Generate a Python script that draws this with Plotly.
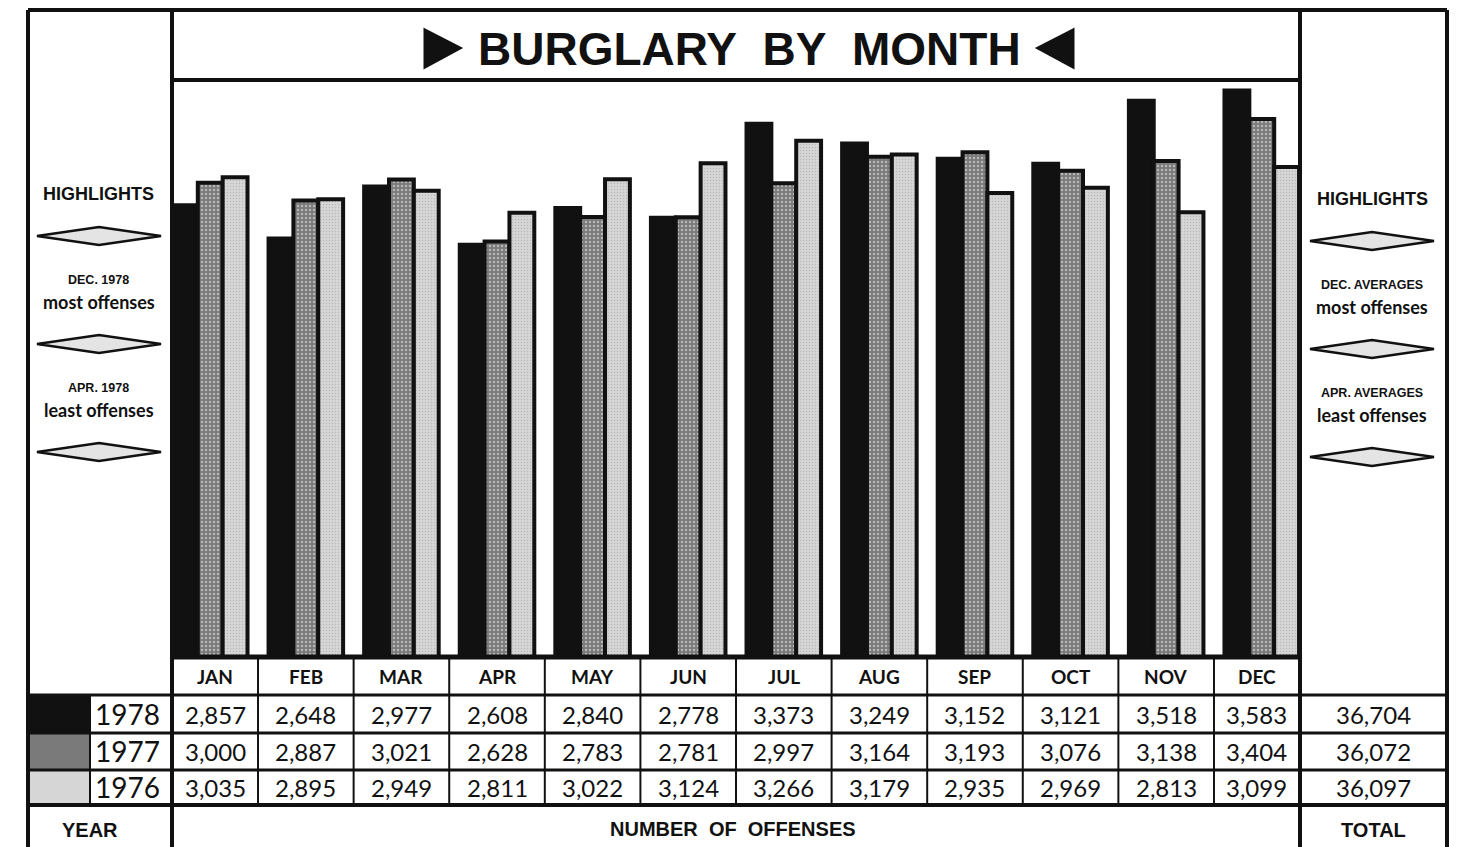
import plotly.graph_objects as go

# values
months = ["JAN", "FEB", "MAR", "APR", "MAY", "JUN", "JUL", "AUG", "SEP", "OCT", "NOV", "DEC"]
years = ["1978", "1977", "1976"]
burglary_1978 = [2857, 2648, 2977, 2608, 2840, 2778, 3373, 3249, 3152, 3121, 3518, 3583]
burglary_1977 = [3000, 2887, 3021, 2628, 2783, 2781, 2997, 3164, 3193, 3076, 3138, 3404]
burglary_1976 = [3035, 2895, 2949, 2811, 3022, 3124, 3266, 3179, 2935, 2969, 2813, 3099]
totals = [36704, 36072, 36097]
left_notes = [("DEC. 1978", "most offenses"), ("APR. 1978", "least offenses")]
right_notes = [("DEC. AVERAGES", "most offenses"), ("APR. AVERAGES", "least offenses")]

# page body has an 8px margin, so the figure is a bit smaller and
# all the pixel positions below (window coords) get shifted by OFF
OFF = 8
W, H = 1458 - OFF, 847 - OFF
INK = "#111111"
year_fill = ["#111111", "#7a7a7a", "#d6d6d6"]
NUM_FONT = "Lato, 'Open Sans', sans-serif"
HEAD_FONT = "'Liberation Sans', Arial, sans-serif"
X_RANGE = [-0.4, len(months) - 0.6]


def px(x):
    return (x - OFF) / W


def py(y):
    return 1 - (y - OFF) / H


series = [burglary_1978, burglary_1977, burglary_1976]
patterns = [
    dict(shape=""),
    dict(shape=".", fgcolor="#f2f2f2", size=4, solidity=0.3),
    dict(shape=".", fgcolor="#9a9a9a", size=3, solidity=0.2),
]

fig = go.Figure()
for yr, vals, col, pat in zip(years, series, year_fill, patterns):
    fig.add_trace(go.Bar(
        x=months, y=vals, name=yr,
        marker=dict(color=col, line=dict(color=INK, width=4), pattern=pat),
        hoverinfo="x+y+name",
    ))

shapes = []
annotations = []


def hline(y, x0, x1, w=3):
    shapes.append(dict(type="line", xref="paper", yref="paper",
                       x0=px(x0), x1=px(x1), y0=py(y), y1=py(y),
                       line=dict(color=INK, width=w)))


def vline(x, y0, y1, w=3):
    shapes.append(dict(type="line", xref="paper", yref="paper",
                       x0=px(x), x1=px(x), y0=py(y0), y1=py(y1),
                       line=dict(color=INK, width=w)))


def diamond(cx, cy, half_w=62, half_h=9):
    path = "M {} {} L {} {} L {} {} L {} {} Z".format(
        px(cx - half_w), py(cy), px(cx), py(cy - half_h),
        px(cx + half_w), py(cy), px(cx), py(cy + half_h))
    shapes.append(dict(type="path", xref="paper", yref="paper", path=path,
                       fillcolor="#e4e4e4", line=dict(color=INK, width=2.5)))


def text(x, y, s, size, bold=False, family=NUM_FONT, xref="paper"):
    annotations.append(dict(
        x=x if xref == "x" else px(x), y=py(y), xref=xref, yref="paper",
        text="<b>%s</b>" % s if bold else s, showarrow=False,
        xanchor="center", yanchor="middle",
        font=dict(family=family, size=size, color=INK)))


# table cells are clipped by the plot edges, so centre text in the visible cell
cell_x = [(max(k - 0.5, X_RANGE[0]) + min(k + 0.5, X_RANGE[1])) / 2
          for k in range(len(months))]

# year swatches in the left column
row_y = [(695, 733), (733, 770), (770, 805)]
for (y0, y1), col in zip(row_y, year_fill):
    shapes.append(dict(type="rect", xref="paper", yref="paper",
                       x0=px(30), x1=px(90), y0=py(y0), y1=py(y1),
                       fillcolor=col, line=dict(width=0)))

# frame and table rules
hline(10, 28, 1447, 4)
vline(28, 10, 860, 4)
vline(1447, 10, 860, 4)
vline(172, 10, 860, 4)
vline(1300, 10, 860, 4)
hline(80, 172, 1300, 4)
hline(657, 172, 1300, 5)
hline(695, 28, 1447, 3)
hline(733, 28, 1447, 3)
hline(770, 28, 1447, 3)
hline(805, 28, 1447, 4)
vline(90, 695, 805, 2)
for k in range(len(months) - 1):
    shapes.append(dict(type="line", xref="x", yref="paper",
                       x0=k + 0.5, x1=k + 0.5, y0=py(657), y1=py(805),
                       line=dict(color=INK, width=2)))

# title with pointer triangles
text(749, 49, "BURGLARY\u00a0\u00a0BY\u00a0\u00a0MONTH", 46, True, HEAD_FONT)
for tri in ([(425, 30), (460, 48), (425, 67)], [(1073, 30), (1038, 48), (1073, 67)]):
    path = "M " + " L ".join("{} {}".format(px(a), py(b)) for a, b in tri) + " Z"
    shapes.append(dict(type="path", xref="paper", yref="paper", path=path,
                       fillcolor=INK, line=dict(color=INK, width=3)))

# month header row and data rows
for cx, m in zip(cell_x, months):
    text(cx, 676, m, 19, True, NUM_FONT, xref="x")
row_centers = [714, 751, 787]
for yr, vals, yc, tot in zip(years, series, row_centers, totals):
    text(127, yc, yr, 28, False, NUM_FONT)
    for cx, v in zip(cell_x, vals):
        text(cx, yc, "{:,}".format(v), 24, False, NUM_FONT, xref="x")
    text(1373, yc, "{:,}".format(tot), 24, False, NUM_FONT)

text(90, 830, "YEAR", 20, True, HEAD_FONT)
text(733, 829, "NUMBER\u00a0\u00a0OF\u00a0\u00a0OFFENSES", 20, True, HEAD_FONT)
text(1373, 830, "TOTAL", 20, True, HEAD_FONT)

# highlight side panels
for cx, notes, base in ((99, left_notes, 194), (1372, right_notes, 199)):
    text(cx, base, "HIGHLIGHTS", 18, True, HEAD_FONT)
    diamond(cx, base + 42)
    for i, (head, sub) in enumerate(notes):
        y0 = base + 86 + i * 108
        text(cx, y0, head, 12.5, True, HEAD_FONT)
        text(cx, y0 + 22, sub, 18, True, NUM_FONT)
        diamond(cx, y0 + 64)

fig.update_layout(
    width=W, height=H,
    margin=dict(l=0, r=0, t=0, b=0),
    paper_bgcolor="white", plot_bgcolor="white",
    barmode="group", bargap=0.22, bargroupgap=0,
    showlegend=False,
    xaxis=dict(domain=[px(172), px(1300)], range=X_RANGE,
               showticklabels=False, showgrid=False, zeroline=False,
               ticks="", fixedrange=True),
    yaxis=dict(domain=[py(657), py(80)], range=[0, 3650],
               showticklabels=False, showgrid=False, zeroline=False,
               ticks="", fixedrange=True),
    shapes=shapes, annotations=annotations,
)

fig.write_html("out.html")
